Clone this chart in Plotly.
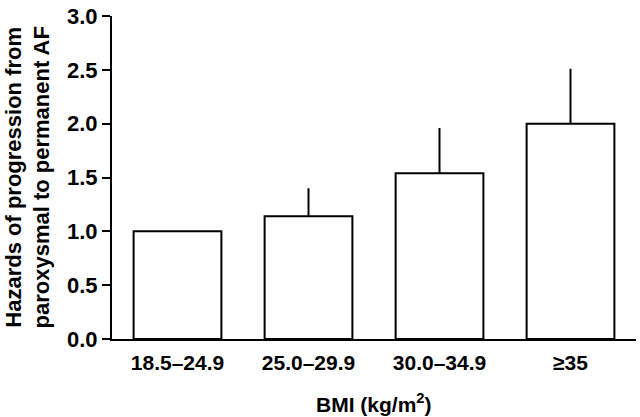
import plotly.graph_objects as go

categories = ["18.5–24.9", "25.0–29.9", "30.0–34.9", "≥35"]
hazards = [1.0, 1.14, 1.54, 2.0]
err_plus = [0.0, 0.26, 0.42, 0.51]
y_ticks = [0.0, 0.5, 1.0, 1.5, 2.0, 2.5, 3.0]
y_ticklabels = ["0.0", "0.5", "1.0", "1.5", "2.0", "2.5", "3.0"]

FONT = "Liberation Sans, Arial, Helvetica, sans-serif"

fig = go.Figure()
fig.add_trace(go.Bar(
    x=list(range(len(categories))),
    y=hazards,
    width=0.67,
    marker=dict(color="white", line=dict(color="black", width=2)),
    error_y=dict(type="data", symmetric=False, array=err_plus,
                 arrayminus=[0] * len(err_plus), color="black",
                 thickness=2, width=0, visible=True),
    showlegend=False,
))

fig.update_layout(
    width=640, height=417,
    margin=dict(l=112, r=4, t=10, b=78),
    paper_bgcolor="white", plot_bgcolor="white",
    font=dict(family=FONT, size=21, color="black", weight="bold"),
    bargap=0.33,
)
fig.update_xaxes(
    range=[-0.5, 3.5],
    tickmode="array", tickvals=list(range(len(categories))), ticktext=categories,
    showline=True, linecolor="black", linewidth=2,
    ticks="", showgrid=False, zeroline=False,
    tickfont=dict(family=FONT, size=21, color="black", weight="bold"),
    ticklabelstandoff=4,
    ticklabeloverflow="allow",
)
fig.update_yaxes(
    range=[0, 3.0],
    tickmode="array", tickvals=y_ticks, ticktext=y_ticklabels,
    showline=True, linecolor="black", linewidth=2,
    ticks="outside", ticklen=8, tickwidth=2, tickcolor="black",
    showgrid=False, zeroline=False,
    tickfont=dict(family=FONT, size=22, color="black", weight="bold"),
    ticklabeloverflow="allow",
)
fig.add_annotation(
    text="Hazards of progression from<br>paroxysmal to permanent AF",
    xref="paper", yref="paper", x=0, y=0.5, xanchor="center", yanchor="middle",
    xshift=-85, textangle=-90, showarrow=False,
    font=dict(family=FONT, size=22, color="black", weight="bold"),
)
fig.add_annotation(
    text="BMI (kg/m<sup>2</sup>)",
    xref="paper", yref="paper", x=0.5, y=0, xanchor="center", yanchor="middle",
    yshift=-64, showarrow=False,
    font=dict(family=FONT, size=21, color="black", weight="bold"),
)
fig.write_html("out.html", config={"displayModeBar": False},
               post_script="document.body.style.margin='0px';")
